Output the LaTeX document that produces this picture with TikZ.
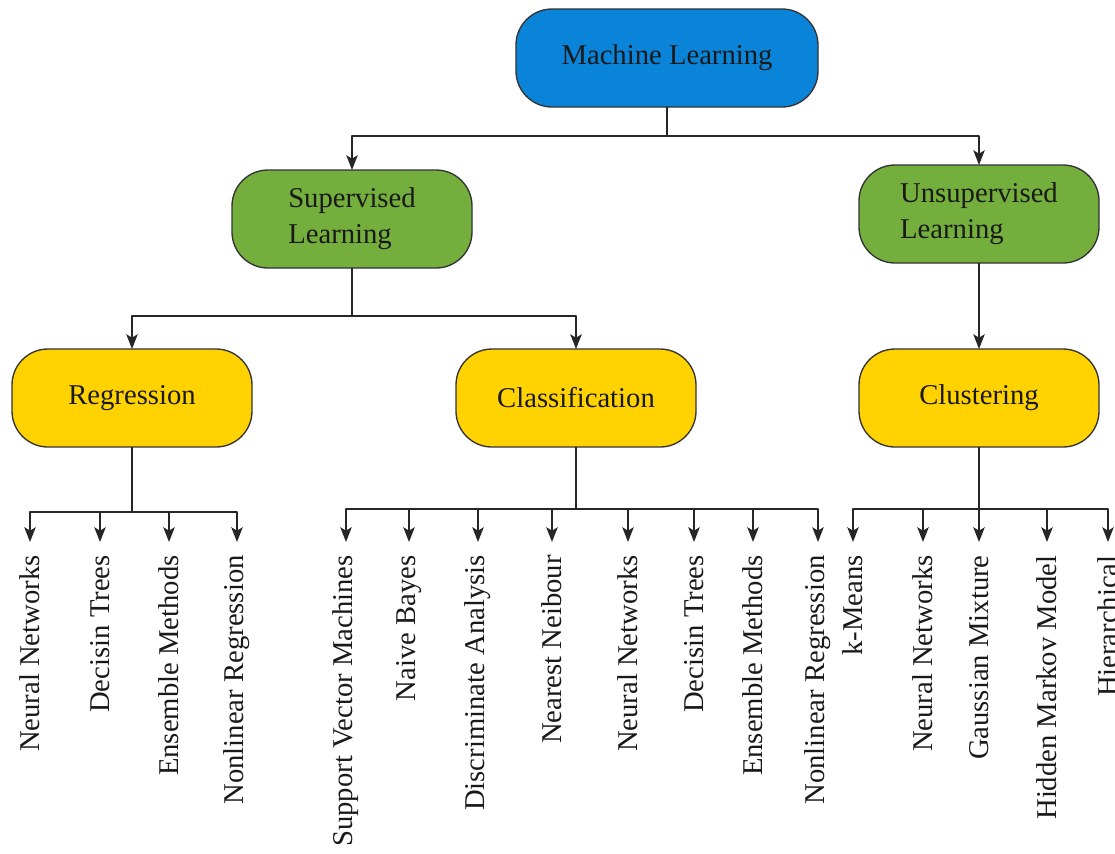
\documentclass[tikz,border=0pt]{standalone}
\usepackage{fontspec}
\setmainfont{LiberationSerif}[Extension=.ttf,UprightFont=*-Regular,BoldFont=*-Bold]
\usetikzlibrary{arrows.meta}
\definecolor{mlblue}{RGB}{10,132,216}
\definecolor{supgreen}{RGB}{116,174,60}
\definecolor{clsyellow}{RGB}{255,210,0}
\begin{document}
\begin{tikzpicture}[x=.75pt,y=-.75pt,>={Stealth[length=11pt,width=8.5pt,inset=2.5pt]},line join=round,font=\fontsize{21.5}{27}\selectfont,
	box/.style={draw=black!80,line width=1pt,rounded corners=27pt,minimum width=180pt,minimum height=73.5pt,text=black!90,inner sep=0pt,outer sep=0pt},
	leaf/.style={rotate=90,anchor=east,inner xsep=10pt,inner ysep=0pt,outer sep=0pt,text=black!90},
	link/.style={draw=black!85,line width=1.5pt}]
	\useasboundingbox (0,0) rectangle (1115,854);
	% boxes
	\node[box,fill=mlblue,minimum width=226.5pt] (ml) at (667,58) {Machine Learning};
	\node[box,fill=supgreen,align=left] (sup) at (352,219) {Supervised\\Learning};
	\node[box,fill=supgreen,align=left] (uns) at (979,214) {Unsupervised\\Learning};
	\node[box,fill=clsyellow] (reg) at (132,398) {Regression};
	\node[box,fill=clsyellow] (cla) at (576,398) {Classification};
	\node[box,fill=clsyellow] (clu) at (979,398) {Clustering};
	% branch points
	\coordinate (mb) at (667,136);
	\coordinate (sb) at (352,316);
	\coordinate (rb) at (132,512);
	\coordinate (cb) at (576,509);
	\coordinate (kb) at (979,509);
	% leaves
	\node[leaf] (r1) at (30,542) {Neural Networks};
	\node[leaf] (r2) at (100,542) {Decisin Trees};
	\node[leaf] (r3) at (169,542) {Ensemble Methods};
	\node[leaf] (r4) at (237,542) {Nonlinear Regression};
	\node[leaf] (c1) at (346,542) {Support Vector Machines};
	\node[leaf] (c2) at (409,542) {Naive Bayes};
	\node[leaf] (c3) at (478,542) {Discriminate Analysis};
	\node[leaf] (c4) at (552,542) {Nearest Neibour};
	\node[leaf] (c5) at (628,542) {Neural Networks};
	\node[leaf] (c6) at (694,542) {Decisin Trees};
	\node[leaf] (c7) at (753,542) {Ensemble Methods};
	\node[leaf] (c8) at (818,542) {Nonlinear Regression};
	\node[leaf] (k1) at (853,542) {k-Means};
	\node[leaf] (k2) at (923,542) {Neural Networks};
	\node[leaf] (k3) at (979,542) {Gaussian Mixture};
	\node[leaf] (k4) at (1047,542) {Hidden Markov Model};
	\node[leaf] (k5) at (1108,542) {Hierarchical};
	% connectors
	\draw[link] (ml)--(mb);
	\draw[link,->] (mb)-|(sup);
	\draw[link,->] (mb)-|(uns);
	\draw[link] (sup)--(sb);
	\draw[link,->] (sb)-|(reg);
	\draw[link,->] (sb)-|(cla);
	\draw[link,->] (uns)--(clu);
	\draw[link] (reg)--(rb);
	\draw[link] (cla)--(cb);
	\draw[link] (clu)--(kb);
	\draw[link,->] (rb)-|(r1);
	\draw[link,->] (rb)-|(r2);
	\draw[link,->] (rb)-|(r3);
	\draw[link,->] (rb)-|(r4);
	\draw[link,->] (cb)-|(c1);
	\draw[link,->] (cb)-|(c2);
	\draw[link,->] (cb)-|(c3);
	\draw[link,->] (cb)-|(c4);
	\draw[link,->] (cb)-|(c5);
	\draw[link,->] (cb)-|(c6);
	\draw[link,->] (cb)-|(c7);
	\draw[link,->] (cb)-|(c8);
	\draw[link,->] (kb)-|(k1);
	\draw[link,->] (kb)-|(k2);
	\draw[link,->] (kb)-|(k3);
	\draw[link,->] (kb)-|(k4);
	\draw[link,->] (kb)-|(k5);
\end{tikzpicture}
\end{document}
